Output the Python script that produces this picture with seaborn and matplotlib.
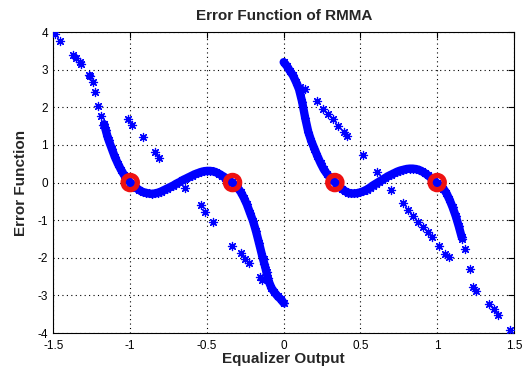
import numpy as np
import pandas as pd
import matplotlib
matplotlib.use("Agg")
import matplotlib.pyplot as plt
import seaborn as sns

# ---- data ----
left_x = [-1.17, -1.16, -1.15, -1.14, -1.12, -1.10, -1.08, -1.06, -1.04, -1.02,
          -1.00, -0.98, -0.96, -0.94, -0.92, -0.90, -0.88, -0.86, -0.84, -0.82,
          -0.80, -0.78, -0.76, -0.74, -0.72, -0.70, -0.68, -0.66, -0.64, -0.62,
          -0.60, -0.58, -0.56, -0.54, -0.52, -0.50, -0.48, -0.46, -0.44, -0.42,
          -0.40, -0.38, -0.36, -0.34, -0.32, -0.30, -0.28, -0.26, -0.24, -0.22,
          -0.20, -0.18, -0.16, -0.14, -0.12, -0.10, -0.08, -0.06, -0.04, -0.02, 0.0]
left_y = [1.55, 1.40, 1.25, 1.12, 0.90, 0.68, 0.50, 0.34, 0.20, 0.09,
          0.00, -0.08, -0.15, -0.20, -0.25, -0.27, -0.29, -0.30, -0.29, -0.27,
          -0.24, -0.20, -0.16, -0.12, -0.08, -0.03, 0.01, 0.06, 0.10, 0.14,
          0.18, 0.22, 0.25, 0.28, 0.30, 0.31, 0.31, 0.30, 0.27, 0.23,
          0.18, 0.13, 0.07, 0.01, -0.06, -0.14, -0.25, -0.40, -0.58, -0.80,
          -1.02, -1.30, -1.62, -1.95, -2.25, -2.60, -2.80, -2.92, -3.02, -3.10, -3.20]

right_x = [0.00, 0.02, 0.04, 0.06, 0.08, 0.10, 0.12, 0.14, 0.16, 0.18,
           0.20, 0.22, 0.24, 0.26, 0.28, 0.30, 0.32, 0.34, 0.36, 0.38,
           0.40, 0.42, 0.44, 0.46, 0.48, 0.50, 0.52, 0.54, 0.56, 0.58,
           0.60, 0.62, 0.64, 0.66, 0.68, 0.70, 0.72, 0.74, 0.76, 0.78,
           0.80, 0.82, 0.84, 0.86, 0.88, 0.90, 0.92, 0.94, 0.96, 0.98,
           1.00, 1.02, 1.04, 1.06, 1.08, 1.10, 1.12, 1.14, 1.16]
right_y = [3.20, 3.10, 2.97, 2.85, 2.68, 2.48, 2.15, 1.72, 1.35, 1.10,
           0.90, 0.70, 0.52, 0.36, 0.24, 0.14, 0.06, -0.02, -0.10, -0.17,
           -0.23, -0.27, -0.29, -0.29, -0.28, -0.26, -0.23, -0.19, -0.14, -0.08,
           -0.03, 0.02, 0.07, 0.12, 0.17, 0.21, 0.25, 0.29, 0.32, 0.34,
           0.36, 0.37, 0.37, 0.36, 0.34, 0.30, 0.25, 0.19, 0.12, 0.05,
           -0.02, -0.08, -0.16, -0.28, -0.45, -0.65, -0.88, -1.15, -1.45]

scatter_x = [-1.49, -1.46, -1.37, -1.355, -1.33, -1.32, -1.27, -1.26, -1.24, -1.23,
             -1.21, -1.19, -1.176, -1.013, -0.99, -0.92, -0.84, -0.81,
             -0.64, -0.54, -0.51, -0.46, -0.335, -0.28, -0.25, -0.227,
             -0.13, -0.13, -0.157, -0.14, -0.107, -0.10,
             0.105, 0.137, 0.115, 0.22, 0.257, 0.29, 0.32, 0.355, 0.39, 0.41,
             0.514, 0.606, 0.70, 0.776, 0.81, 0.845, 0.878, 0.91, 0.943, 0.965,
             1.01, 1.05, 1.08, 1.16, 1.18, 1.216, 1.233, 1.255, 1.335, 1.368,
             1.394, 1.473]
scatter_y = [3.96, 3.76, 3.39, 3.30, 3.21, 3.15, 2.87, 2.82, 2.66, 2.41,
             2.04, 1.77, 1.52, 1.68, 1.52, 1.21, 0.82, 0.64,
             -0.14, -0.59, -0.79, -1.04, -1.68, -1.87, -2.03, -2.14,
             -2.03, -2.16, -2.50, -2.59, -2.38, -2.55,
             2.53, 2.49, 2.40, 2.16, 1.96, 1.83, 1.69, 1.49, 1.34, 1.25,
             0.72, 0.27, -0.21, -0.54, -0.74, -0.88, -1.05, -1.19, -1.32, -1.45,
             -1.68, -1.90, -1.99, -1.50, -1.76, -2.31, -2.77, -2.89, -3.23, -3.36,
             -3.51, -3.92]

target_x = [-1.0, -1/3, 1/3, 1.0]
target_y = [0.0, 0.0, 0.0, 0.0]

x_ticks = [-1.5, -1, -0.5, 0, 0.5, 1, 1.5]
x_labels = ["-1.5", "-1", "-0.5", "0", "0.5", "1", "1.5"]
y_ticks = [-4, -3, -2, -1, 0, 1, 2, 3, 4]
y_labels = ["-4", "-3", "-2", "-1", "0", "1", "2", "3", "4"]

# ---- plotting ----
sns.set_style("white")
plt.rcParams["font.family"] = ["Liberation Sans", "DejaVu Sans"]

fig = plt.figure(figsize=(5.28, 3.67), dpi=100)
ax = fig.add_axes([0.1013, 0.0926, 0.872, 0.820])

star = (8, 2, 0)
blue = "#0000ff"

for bx, by in [(left_x, left_y), (right_x, right_y)]:
    df = pd.DataFrame({"x": bx, "y": by})
    sns.lineplot(data=df, x="x", y="y", sort=False, ax=ax, color=blue,
                 linewidth=6.0, marker=star, markersize=6.5,
                 markeredgewidth=0.9, markeredgecolor=blue, alpha=1.0)

df_s = pd.DataFrame({"x": scatter_x, "y": scatter_y})
sns.scatterplot(data=df_s, x="x", y="y", ax=ax, marker=star, s=34,
                color=blue, edgecolor=blue, linewidth=0.9, zorder=3)

df_t = pd.DataFrame({"x": target_x, "y": target_y})
sns.scatterplot(data=df_t, x="x", y="y", ax=ax, marker="o", s=105,
                facecolors="none", edgecolor="#ee1111", linewidth=3.8, zorder=5)

ax.set_xlim(-1.5, 1.5)
ax.set_ylim(-4, 4)
ax.set_xticks(x_ticks)
ax.set_xticklabels(x_labels)
ax.set_yticks(y_ticks)
ax.set_yticklabels(y_labels)
ax.tick_params(direction="in", length=4, width=0.8, top=True, right=True,
               labelsize=8.5, colors="black")
ax.tick_params(axis="x", pad=5)
ax.tick_params(axis="y", pad=4)
ax.grid(True, linestyle=(0, (1, 3)), color="black", linewidth=0.8)
for sp in ax.spines.values():
    sp.set_visible(True)
    sp.set_color("black")
    sp.set_linewidth(0.8)

ax.set_title("Error Function of RMMA", fontsize=11, fontweight="bold", pad=9)
ax.set_xlabel("Equalizer Output", fontsize=11, fontweight="bold", labelpad=0)
ax.set_ylabel("Error Function", fontsize=11, fontweight="bold", labelpad=7)

fig.savefig("out.png", dpi=100)
